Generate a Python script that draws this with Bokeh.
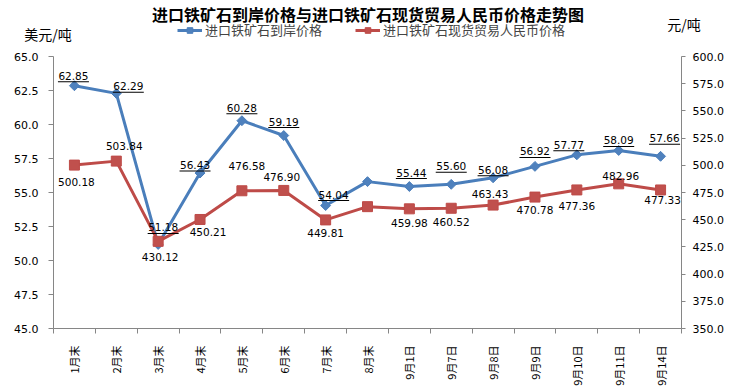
import math
from bokeh.plotting import figure
from bokeh.models import (Range1d, LinearAxis, FixedTicker, SingleIntervalTicker,
                          NumeralTickFormatter, ColumnDataSource, Label, Legend, LegendItem)
from bokeh.core.properties import value
from bokeh.embed import file_html
from bokeh.resources import INLINE

# ---------------- data ----------------
categories = ["1月末", "2月末", "3月末", "4月末", "5月末", "6月末", "7月末", "8月末",
              "9月1日", "9月7日", "9月8日", "9月9日", "9月10日", "9月11日", "9月14日"]
usd_price = [62.85, 62.29, 51.18, 56.43, 60.28, 59.19, 54.04, 55.80,
             55.44, 55.60, 56.08, 56.92, 57.77, 58.09, 57.66]
usd_labels = ["62.85", "62.29", "51.18", "56.43", "60.28", "59.19", "54.04", "",
              "55.44", "55.60", "56.08", "56.92", "57.77", "58.09", "57.66"]
rmb_price = [500.18, 503.84, 430.12, 450.21, 476.58, 476.90, 449.81, 462.0,
             459.98, 460.52, 463.43, 470.78, 477.36, 482.96, 477.33]
rmb_labels = ["500.18", "503.84", "430.12", "450.21", "476.58", "476.90", "449.81", "",
              "459.98", "460.52", "463.43", "470.78", "477.36", "482.96", "477.33"]
series_names = ["进口铁矿石到岸价格", "进口铁矿石现货贸易人民币价格"]
title_text = "进口铁矿石到岸价格与进口铁矿石现货贸易人民币价格走势图"
left_unit = "美元/吨"
right_unit = "元/吨"

# label placement (pixels, style only)
usd_dx = [-1, 12, 5, -5, 0, 0, 8, 0, 2, 0, 0, 0, -8, 0, 4]
usd_dy = [-10, -7, -17, -8, -13, -14, -11, 0, -14, -18, -8, -15, -10, -10, -18]
rmb_dx = [2, 8, 2, 8, 5, -2, 0, 0, 0, 0, -3, 0, 0, 2, 2]
rmb_dy = [17, -15, 16, 13, -25, -13, 13, 0, 14, 14, -11, 13, 16, -8, 10]

# ---------------- layout (pixels) ----------------
W, H = 731, 389
PL, PR, PT, PB = 53, 50, 56, 61          # plot area inset inside the canvas
AW, AH = W - PL - PR, H - PT - PB        # plot area size
Y0, Y1 = 45, 65
R0, R1 = 350, 600
N = len(categories)
xppu = AW / N
yppu = AH / (Y1 - Y0)
rppu = AH / (R1 - R0)

BLUE_LINE, BLUE = "#4A7EBB", "#4F81BD"
RED_LINE, RED = "#BE4B48", "#C0504D"
AXIS = "#868686"
NUM_FONT = "DejaVu Sans"
CJK_FONT = "Noto Sans CJK SC"

xs = [i + 0.5 for i in range(N)]

p = figure(width=W, height=H, output_backend="svg", toolbar_location=None,
           x_range=Range1d(-PL / xppu, N + PR / xppu),
           y_range=Range1d(Y0 - PB / yppu, Y1 + PT / yppu),
           min_border_left=0, min_border_right=0, min_border_top=0, min_border_bottom=0,
           x_axis_type=None, y_axis_type=None)
p.extra_y_ranges = {"rmb": Range1d(R0 - PB / rppu, R1 + PT / rppu)}
p.outline_line_color = None
p.background_fill_color = "white"
p.border_fill_color = "white"

# x axis
xaxis = LinearAxis(ticker=FixedTicker(ticks=xs, minor_ticks=list(range(N + 1))),
                   fixed_location=Y0, bounds=(0, N))
xaxis.major_label_overrides = {x: c for x, c in zip(xs, categories)}
xaxis.major_label_orientation = math.pi / 2
xaxis.major_tick_out = 0
xaxis.major_tick_in = 0
xaxis.minor_tick_out = 5
xaxis.minor_tick_in = 0
xaxis.minor_tick_line_color = AXIS
xaxis.axis_line_color = AXIS
xaxis.major_label_standoff = 12
xaxis.major_label_text_font = CJK_FONT
xaxis.major_label_text_font_size = "11px"
xaxis.major_label_text_color = "black"
p.add_layout(xaxis, "below")

# left axis
laxis = LinearAxis(ticker=SingleIntervalTicker(interval=2.5, num_minor_ticks=0),
                   formatter=NumeralTickFormatter(format="0.0"),
                   fixed_location=0, bounds=(Y0, Y1))
laxis.major_tick_out = 5
laxis.major_tick_in = 0
laxis.major_tick_line_color = AXIS
laxis.axis_line_color = AXIS
laxis.major_label_standoff = 10
laxis.major_label_text_font = NUM_FONT
laxis.major_label_text_font_size = "11px"
laxis.major_label_text_color = "black"
p.add_layout(laxis, "left")

# right axis
raxis = LinearAxis(y_range_name="rmb", ticker=SingleIntervalTicker(interval=25, num_minor_ticks=0),
                   formatter=NumeralTickFormatter(format="0.0"),
                   fixed_location=N, bounds=(R0, R1))
raxis.major_tick_out = 4
raxis.major_tick_in = 0
raxis.major_tick_line_color = AXIS
raxis.axis_line_color = AXIS
raxis.major_label_standoff = 7
raxis.major_label_text_font = NUM_FONT
raxis.major_label_text_font_size = "11px"
raxis.major_label_text_color = "black"
p.add_layout(raxis, "right")

# series
bl = p.line(xs, usd_price, line_color=BLUE_LINE, line_width=3)
bm = p.scatter(xs, usd_price, marker="square", angle=math.pi / 4, size=7,
               fill_color=BLUE, line_color=BLUE_LINE, line_width=1)
rl = p.line(xs, rmb_price, line_color=RED_LINE, line_width=3, y_range_name="rmb")
rm = p.scatter(xs, rmb_price, marker="square", size=10,
               fill_color=RED, line_color=RED_LINE, line_width=1, y_range_name="rmb")

# data labels
ub = {"x": [], "y": [], "t": [], "dx": [], "dy": [], "ux": [], "uy": []}
for x, v, t, dx, dy in zip(xs, usd_price, usd_labels, usd_dx, usd_dy):
    if t:
        ub["x"].append(x); ub["y"].append(v); ub["t"].append(t)
        ub["dx"].append(dx); ub["dy"].append(dy)
        ub["ux"].append(x + dx / xppu)
        ub["uy"].append(v - (dy + 6) / yppu)
usrc = ColumnDataSource(ub)
p.text("x", "y", text="t", x_offset="dx", y_offset="dy", source=usrc,
       text_align="center", text_baseline="middle", text_font=value(NUM_FONT),
       text_font_size="10.5px", text_color="black")
p.rect("ux", "uy", width=31, height=1, width_units="screen", height_units="screen",
       source=usrc, fill_color="black", line_color=None)

rb = {"x": [], "y": [], "t": [], "dx": [], "dy": []}
for x, v, t, dx, dy in zip(xs, rmb_price, rmb_labels, rmb_dx, rmb_dy):
    if t:
        rb["x"].append(x); rb["y"].append(v); rb["t"].append(t)
        rb["dx"].append(dx); rb["dy"].append(dy)
rsrc = ColumnDataSource(rb)
p.text("x", "y", text="t", x_offset="dx", y_offset="dy", source=rsrc, y_range_name="rmb",
       text_align="center", text_baseline="middle", text_font=value(NUM_FONT),
       text_font_size="10.5px", text_color="black")

# title and unit labels (screen units: from canvas left / bottom)
p.add_layout(Label(x=367.5, y=H - 13, x_units="screen", y_units="screen",
                   text=title_text, text_align="center", text_baseline="middle",
                   text_font=CJK_FONT, text_font_size="16px", text_font_style="bold",
                   text_color="black"))
p.add_layout(Label(x=47.5, y=H - 33, x_units="screen", y_units="screen",
                   text=left_unit, text_align="center", text_baseline="middle",
                   text_font=CJK_FONT, text_font_size="14px", text_color="black"))
p.add_layout(Label(x=683.5, y=H - 23, x_units="screen", y_units="screen",
                   text=right_unit, text_align="center", text_baseline="middle",
                   text_font=CJK_FONT, text_font_size="14px", text_color="black"))

legend = Legend(items=[LegendItem(label=series_names[0], renderers=[bl, bm]),
                       LegendItem(label=series_names[1], renderers=[rl, rm])],
                orientation="horizontal", location=(177, H - 39),
                label_text_font=CJK_FONT, label_text_font_size="13px",
                glyph_width=25, glyph_height=14, label_height=14, label_standoff=3,
                spacing=33, padding=0, margin=0, border_line_color=None,
                background_fill_alpha=0)
p.add_layout(legend)

open("out.html", "w").write(file_html(p, INLINE))
